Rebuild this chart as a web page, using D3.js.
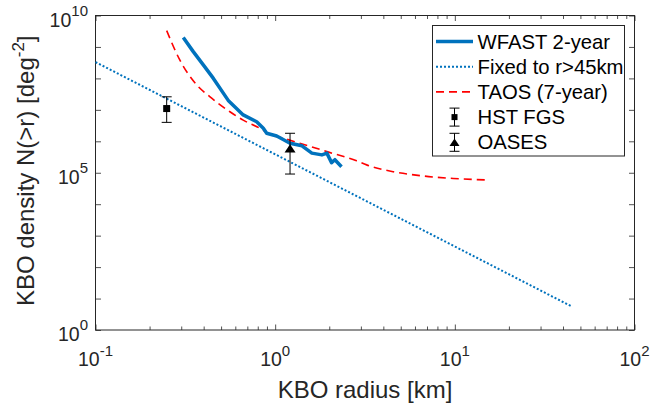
<!DOCTYPE html>
<html>
<head>
<meta charset="utf-8">
<script src="https://cdn.jsdelivr.net/npm/d3@7"></script>
<style>
  body { margin: 0; background: #fff; }
  text { font-family: "Liberation Sans", Arial, sans-serif; }
</style>
</head>
<body>
<div id="chart"></div>
<script>
// WFAST 2-year cumulative density
const wfastR = [0.308, 0.350, 0.398, 0.453, 0.548, 0.664, 0.789, 0.859, 0.897, 1.02, 1.21, 1.41, 1.60, 1.82, 1.94, 2.06, 2.15, 2.34];
const wfastN = [2.0e9, 7.1e8, 2.7e8, 1.0e8, 2.0e7, 6.9e6, 4.2e6, 2.6e6, 1.8e6, 1.47e6, 8.7e5, 7.2e5, 4.2e5, 3.7e5, 4.2e5, 2.1e5, 2.6e5, 1.56e5];

// power law fixed to r>45km
const fixedR = [0.1, 45];
const fixedN = [3.3e8, 5.5];

// TAOS 7-year
const taosR = [0.249, 0.295, 0.366, 0.434, 0.560, 0.664, 0.822, 0.935, 1.11, 1.37, 1.94, 2.84, 3.23, 4.54, 6.67, 9.8, 15.0];
const taosN = [3.3e9, 3.8e8, 6.2e7, 2.6e7, 8.7e6, 4.7e6, 2.6e6, 1.66e6, 1.25e6, 8.7e5, 4.7e5, 2.4e5, 1.78e5, 1.08e5, 7.9e4, 6.6e4, 5.9e4];

// point measurements: r, N, lower, upper
const hstFgs = [0.249, 1.1e7, 4.0e6, 2.6e7];
const oases = [1.21, 6.0e5, 9.1e4, 1.8e6];

const xMajor = [0.1, 1, 10, 100];
const xMajorExp = ["-1", "0", "1", "2"];
const yMajor = [1, 10, 1e2, 1e3, 1e4, 1e5, 1e6, 1e7, 1e8, 1e9, 1e10];
const yLabelVals = [1, 1e5, 1e10];
const yLabelExp = ["0", "5", "10"];

const legendNames = ["WFAST 2-year", "Fixed to r>45km", "TAOS (7-year)", "HST FGS", "OASES"];

const W = 654, H = 410;
const pLeft = 95.5, pRight = 634.5, pTop = 15.5, pBottom = 330;
const axisColor = "#262626";
const blue = "#0072BD";

const svg = d3.select("#chart").append("svg")
    .attr("width", W)
    .attr("height", H);

const x = d3.scaleLog().domain([0.1, 100]).range([pLeft, pRight]);
const y = d3.scaleLog().domain([1, 1e10]).range([pBottom, pTop]);

// minor x ticks 2..9 per decade
const xMinor = [];
[0.1, 1, 10].forEach(d => {
    for (let k = 2; k <= 9; k++) xMinor.push(d * k);
});

const axes = svg.append("g");

function styleAxis(g) {
    g.select(".domain").remove();
    g.selectAll("line").attr("stroke", axisColor).attr("stroke-width", 0.8);
}

axes.append("g").attr("transform", `translate(0,${pBottom})`)
    .call(d3.axisBottom(x).tickValues(xMajor).tickSizeInner(-5.5).tickSizeOuter(0).tickFormat(""))
    .call(styleAxis);
axes.append("g").attr("transform", `translate(0,${pBottom})`)
    .call(d3.axisBottom(x).tickValues(xMinor).tickSizeInner(-3.5).tickSizeOuter(0).tickFormat(""))
    .call(styleAxis);
axes.append("g").attr("transform", `translate(0,${pTop})`)
    .call(d3.axisTop(x).tickValues(xMajor).tickSizeInner(-5.5).tickSizeOuter(0).tickFormat(""))
    .call(styleAxis);
axes.append("g").attr("transform", `translate(0,${pTop})`)
    .call(d3.axisTop(x).tickValues(xMinor).tickSizeInner(-3.5).tickSizeOuter(0).tickFormat(""))
    .call(styleAxis);
axes.append("g").attr("transform", `translate(${pLeft},0)`)
    .call(d3.axisLeft(y).tickValues(yMajor).tickSizeInner(-5.5).tickSizeOuter(0).tickFormat(""))
    .call(styleAxis);
axes.append("g").attr("transform", `translate(${pRight},0)`)
    .call(d3.axisRight(y).tickValues(yMajor).tickSizeInner(-5.5).tickSizeOuter(0).tickFormat(""))
    .call(styleAxis);

// box
axes.append("rect")
    .attr("x", pLeft).attr("y", pTop)
    .attr("width", pRight - pLeft).attr("height", pBottom - pTop)
    .attr("fill", "none")
    .attr("stroke", axisColor)
    .attr("stroke-width", 1);

// tick labels
const xLab = axes.selectAll(".xlab").data(xMajor).enter().append("text")
    .attr("class", "xlab")
    .attr("x", d => x(d))
    .attr("y", pBottom + 36)
    .attr("text-anchor", "middle")
    .attr("fill", axisColor)
    .attr("font-size", "19.5px");
xLab.append("tspan").text("10");
xLab.append("tspan").attr("dy", -10).attr("font-size", "15px").text((d, i) => xMajorExp[i]);

const yLab = axes.selectAll(".ylab").data(yLabelVals).enter().append("text")
    .attr("class", "ylab")
    .attr("x", 88)
    .attr("y", d => y(d) + 11)
    .attr("text-anchor", "end")
    .attr("fill", axisColor)
    .attr("font-size", "19.5px");
yLab.append("tspan").text("10");
yLab.append("tspan").attr("dy", -11).attr("font-size", "15px").text((d, i) => yLabelExp[i]);

// axis titles
svg.append("text")
    .attr("x", (pLeft + pRight) / 2)
    .attr("y", 398)
    .attr("text-anchor", "middle")
    .attr("fill", axisColor)
    .attr("font-size", "24px")
    .text("KBO radius [km]");

const yTitle = svg.append("text")
    .attr("transform", `translate(34,${(pTop + pBottom) / 2 - 2}) rotate(-90)`)
    .attr("text-anchor", "middle")
    .attr("fill", axisColor)
    .attr("font-size", "24px");
yTitle.append("tspan").text("KBO density N(>r) [deg");
yTitle.append("tspan").attr("dy", -10).attr("font-size", "17px").text("-2");
yTitle.append("tspan").attr("dy", 10).text("]");

// series
const plot = svg.append("g");

const lineOf = (rs, ns, curve) => d3.line()
    .x(i => x(rs[i]))
    .y(i => y(ns[i]))
    .curve(curve)(d3.range(rs.length));

plot.append("path")
    .attr("d", lineOf(fixedR, fixedN, d3.curveLinear))
    .attr("fill", "none")
    .attr("stroke", blue)
    .attr("stroke-width", 2)
    .attr("stroke-dasharray", "2,2");

plot.append("path")
    .attr("d", lineOf(taosR, taosN, d3.curveMonotoneX))
    .attr("fill", "none")
    .attr("stroke", "#FF0000")
    .attr("stroke-width", 1.6)
    .attr("stroke-dasharray", "8,5");

plot.append("path")
    .attr("d", lineOf(wfastR, wfastN, d3.curveLinear))
    .attr("fill", "none")
    .attr("stroke", blue)
    .attr("stroke-width", 3.5)
    .attr("stroke-linejoin", "round");

// error bars
function errorBar(g, cx, yTop, yBot) {
    g.append("line").attr("x1", cx).attr("x2", cx).attr("y1", yTop).attr("y2", yBot)
        .attr("stroke", "#000").attr("stroke-width", 1);
    g.append("line").attr("x1", cx - 5).attr("x2", cx + 5).attr("y1", yTop).attr("y2", yTop)
        .attr("stroke", "#000").attr("stroke-width", 1);
    g.append("line").attr("x1", cx - 5).attr("x2", cx + 5).attr("y1", yBot).attr("y2", yBot)
        .attr("stroke", "#000").attr("stroke-width", 1);
}
function square(g, cx, cy, s) {
    g.append("rect").attr("x", cx - s / 2).attr("y", cy - s / 2)
        .attr("width", s).attr("height", s).attr("fill", "#000");
}
function triangle(g, cx, cy, w) {
    const h = w * 0.75;
    g.append("path")
        .attr("d", `M${cx - w / 2},${cy + h / 2}L${cx + w / 2},${cy + h / 2}L${cx},${cy - h / 2}Z`)
        .attr("fill", "#000");
}

const hx = x(hstFgs[0]);
errorBar(plot, hx, y(hstFgs[3]), y(hstFgs[2]));
square(plot, hx, y(hstFgs[1]), 7);

const ox = x(oases[0]);
errorBar(plot, ox, y(oases[3]), y(oases[2]));
triangle(plot, ox, y(oases[1]), 11);

// legend
const leg = svg.append("g");
leg.append("rect")
    .attr("x", 432.5).attr("y", 25.5)
    .attr("width", 192).attr("height", 130.5)
    .attr("fill", "#fff")
    .attr("stroke", axisColor)
    .attr("stroke-width", 1);

const rowY = i => 41.5 + i * 25.2;
const lx1 = 436, lx2 = 473, mx = 454.5;

leg.append("line").attr("x1", lx1).attr("x2", lx2).attr("y1", rowY(0)).attr("y2", rowY(0))
    .attr("stroke", blue).attr("stroke-width", 3.5);
leg.append("line").attr("x1", lx1).attr("x2", lx2).attr("y1", rowY(1)).attr("y2", rowY(1))
    .attr("stroke", blue).attr("stroke-width", 2).attr("stroke-dasharray", "2,2");
leg.append("line").attr("x1", lx1).attr("x2", lx2).attr("y1", rowY(2)).attr("y2", rowY(2))
    .attr("stroke", "#FF0000").attr("stroke-width", 1.6).attr("stroke-dasharray", "8,5");

errorBar(leg, mx, rowY(3) - 9, rowY(3) + 9);
square(leg, mx, rowY(3), 6);
errorBar(leg, mx, rowY(4) - 9, rowY(4) + 9);
triangle(leg, mx, rowY(4), 10);

leg.selectAll(".legtext").data(legendNames).enter().append("text")
    .attr("class", "legtext")
    .attr("x", 477.5)
    .attr("y", (d, i) => rowY(i) + 7)
    .attr("font-size", "20.3px")
    .attr("fill", "#000")
    .text(d => d);
</script>
</body>
</html>
